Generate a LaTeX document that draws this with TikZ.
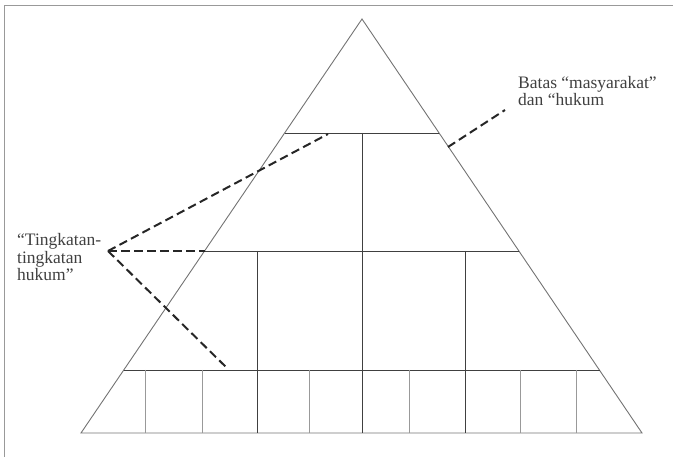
\documentclass[tikz,border=0pt]{standalone}
\usepackage{fontspec}
\setmainfont{Liberation Serif}
\usetikzlibrary{positioning}

\begin{document}
\begin{tikzpicture}[
    x=1pt, y=-1pt,
    side/.style={draw=black!55, line width=0.9pt},
    tier/.style={draw=black!75, line width=0.9pt},
    post/.style={draw=black!75, line width=0.9pt},
    cell/.style={draw=black!40, line width=1pt},
    pointer/.style={draw=black!85, dash pattern=on 8.5pt off 4.5pt, line width=2pt},
    note/.style={align=left, inner sep=0pt, text=black!75, font=\fontsize{17.5}{17.5}\selectfont}
]
\useasboundingbox (0,0) rectangle (673,457);
\draw[black!40, line width=1.5pt] (4.5,457) -- (4.5,5.5) -- (673,5.5);

% pyramid outline
\coordinate (apex) at (362,19);
\coordinate (baseL) at (81,433);
\coordinate (baseR) at (642,433);
\draw[side] (baseL) -- (apex) -- (baseR) -- cycle;

% tiers
\coordinate (t1L) at (285,133); \coordinate (t1R) at (439,133);
\coordinate (t2L) at (205,251); \coordinate (t2R) at (519,251);
\coordinate (t3L) at (124,370); \coordinate (t3R) at (600,370);
\draw[tier] (t1L) -- (t1R);
\draw[tier] (t2L) -- (t2R);
\draw[tier] (t3L) -- (t3R);

% divisions
\draw[post] (362,133) -- (362,433);
\draw[post] (257,251) -- (257,433);
\draw[post] (465,251) -- (465,433);
\foreach \x in {145,202,309,409,520,576}
  \draw[cell] (\x,370) -- (\x,433);

% labels (base = last line)
\node[note, anchor=base west] (levels) at (17,281) {“Tingkatan-\\tingkatan\\hukum”};
\node[note, anchor=base west] (limit) at (518,106) {Batas “masyarakat”\\dan “hukum};

% pointers
\coordinate (fork) at (108,251);
\coordinate (upTip) at (328,134);
\coordinate (lowTip) at (228,369);
\coordinate (edgeTip) at (448,147);
\coordinate (limitTip) at (505,110);
\draw[pointer] (fork) -- (upTip);
\draw[pointer] (fork) -- (t2L);
\draw[pointer] (fork) -- (lowTip);
\draw[pointer] (edgeTip) -- (limitTip);
\end{tikzpicture}
\end{document}
